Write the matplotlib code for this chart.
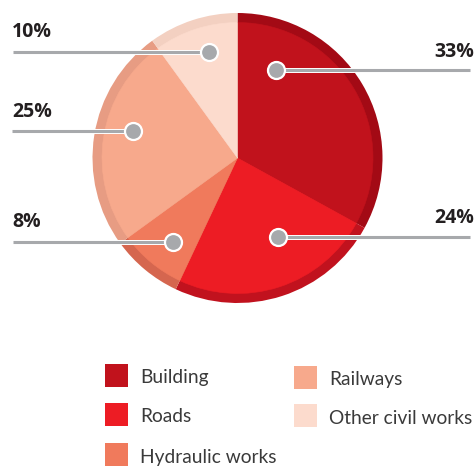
import matplotlib
matplotlib.use("Agg")
import matplotlib.pyplot as plt
import matplotlib.patheffects as pe

# data
sectors = ["Building", "Roads", "Hydraulic works", "Railways", "Other civil works"]
shares = [33, 24, 8, 25, 10]
fill_colors = ["#c1121c", "#ed1c24", "#f07a5c", "#f7a98c", "#fcdbcd"]
rim_colors = ["#a30a15", "#c1121e", "#d5664f", "#e79c83", "#f3d0c1"]

# label layout (pixel coords, y down): dot x, dot y, line end x, text y
label_pos = {
    "Building": (276, 70, 470, 52, "right"),
    "Roads": (278, 237, 470, 218, "right"),
    "Hydraulic works": (173, 242, 13, 222, "left"),
    "Railways": (133, 131, 12, 112, "left"),
    "Other civil works": (209, 52, 13, 32, "left"),
}

W, H = 477, 466
fig = plt.figure(figsize=(W / 100, H / 100), dpi=100)
ax = fig.add_axes([0, 0, 1, 1])

cx, cy, r = 237.5, H - 158, 145
rim = 9.5

# outer rim then inner fill
ax.pie(shares, colors=rim_colors, startangle=90, counterclock=False,
       center=(cx, cy), radius=r, frame=True,
       wedgeprops=dict(linewidth=0))
wedges, _ = ax.pie(shares, colors=fill_colors, startangle=90, counterclock=False,
                   center=(cx, cy), radius=r - rim, frame=True,
                   wedgeprops=dict(linewidth=0))
for w, c in zip(wedges, fill_colors):
    w.set_edgecolor(c)
    w.set_linewidth(0.4)
ax.set_xlim(0, W)
ax.set_ylim(0, H)
ax.set_aspect("equal")
ax.axis("off")

grey = "#a7a9ac"
for name, val in zip(sectors, shares):
    dx, dy, ex, ty, side = label_pos[name]
    ax.plot([dx, ex], [H - dy, H - dy], color=grey, lw=2.2, solid_capstyle="butt",
            path_effects=[pe.Stroke(linewidth=3.6, foreground="white"), pe.Normal()],
            zorder=5)
    ax.scatter([dx], [H - dy], s=150, color=grey, edgecolor="white", linewidth=1.6,
               zorder=6)
    tx = 474 if side == "right" else 12
    ax.text(tx, H - ty, f"{val}%", ha=side, va="center", fontsize=14,
            fontweight="bold", color="#231f20", family="Open Sans")

# legend
legend_pos = {
    "Building": (105, 364),
    "Roads": (105, 403),
    "Hydraulic works": (105, 443),
    "Railways": (294, 366),
    "Other civil works": (294, 404),
}
for name, col in zip(sectors, fill_colors):
    x, y = legend_pos[name]
    ax.add_patch(plt.Rectangle((x, H - y - 23), 23, 23, color=col, lw=0))
    ax.text(x + 35, H - y - 14, name, ha="left", va="center", fontsize=13.8,
            color="#3a3a3a", family="Lato")

fig.savefig("out.png", dpi=100)
